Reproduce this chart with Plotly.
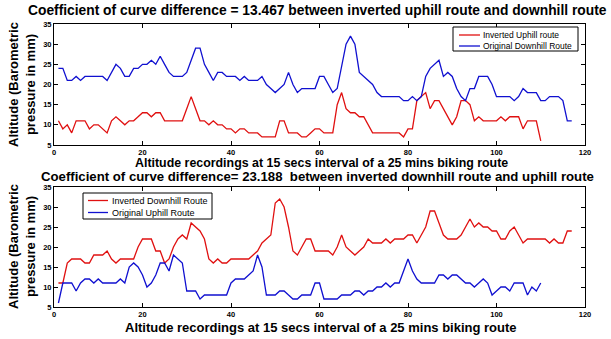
import plotly.graph_objects as go

# ---------------- data ----------------
top_uphill_inverted = [11, 9, 10, 8, 11, 11, 11, 9, 10, 10, 9, 8, 11, 12, 11, 10, 11, 11, 12, 13,
                       13, 12, 13, 13, 11, 11, 11, 11, 11, 14, 17, 14, 11, 11, 10, 11, 10, 10, 9, 9,
                       8, 9, 9, 8, 8, 8, 7, 7, 7, 7, 11, 11, 8, 8, 8, 7, 7, 8, 9, 9,
                       8, 8, 8, 15, 18, 14, 13, 13, 12, 12, 10, 8, 8, 8, 8, 8, 8, 8, 7, 9,
                       9, 16, 17, 18, 14, 16, 16, 14, 12, 10, 12, 16, 16, 15, 11, 12, 11, 11, 11, 11,
                       12, 11, 12, 12, 12, 9, 11, 11, 11, 6]
top_downhill_original = [24, 24, 21, 21, 22, 21, 22, 22, 22, 22, 22, 21, 23, 25, 24, 22, 22, 24, 24, 25,
                         25, 26, 25, 27, 25, 23, 22, 22, 22, 23, 26, 29, 29, 25, 23, 21, 23, 23, 22, 22,
                         22, 21, 22, 21, 21, 21, 22, 20, 19, 18, 19, 20, 23, 20, 18, 19, 19, 19, 19, 22,
                         22, 20, 18, 19, 25, 30, 32, 30, 23, 22, 21, 20, 18, 17, 17, 17, 17, 17, 16, 16,
                         17, 16, 17, 22, 24, 25, 26, 22, 23, 22, 19, 17, 16, 19, 19, 22, 22, 22, 20, 17,
                         17, 17, 17, 16, 17, 19, 18, 18, 18, 16, 16, 17, 17, 17, 16, 11, 11]
bot_downhill_inverted = [11, 11, 16, 17, 17, 17, 16, 16, 18, 18, 18, 19, 17, 16, 17, 17, 17, 17, 20, 22,
                         22, 22, 19, 19, 16, 17, 20, 22, 23, 22, 26, 25, 24, 22, 17, 16, 17, 16, 16, 17,
                         17, 17, 17, 17, 18, 19, 21, 22, 23, 31, 32, 30, 25, 19, 18, 20, 22, 22, 19, 19,
                         19, 19, 18, 20, 23, 20, 19, 18, 19, 20, 22, 21, 21, 21, 22, 21, 22, 22, 22, 23,
                         23, 21, 23, 25, 29, 29, 26, 23, 22, 22, 22, 23, 25, 27, 25, 26, 25, 25, 24, 24,
                         22, 22, 24, 25, 23, 21, 22, 22, 22, 22, 22, 21, 22, 21, 21, 24, 24]
bot_uphill_original = [6, 11, 11, 11, 9, 11, 12, 12, 11, 12, 11, 11, 11, 11, 12, 11, 15, 16, 15, 13,
                       10, 11, 13, 16, 16, 14, 18, 17, 16, 9, 9, 9, 7, 8, 8, 8, 8, 8, 8, 11,
                       12, 12, 12, 13, 14, 18, 15, 8, 8, 8, 9, 9, 8, 7, 7, 8, 8, 8, 11, 11,
                       7, 7, 7, 7, 8, 8, 8, 9, 9, 8, 9, 9, 10, 10, 11, 10, 11, 11, 14, 17,
                       14, 12, 11, 11, 11, 11, 13, 13, 12, 13, 13, 12, 11, 11, 10, 11, 12, 11, 8, 9,
                       10, 10, 9, 11, 11, 11, 8, 10, 9, 11]

x_ticks = [0, 20, 40, 60, 80, 100, 120]
y_ticks = [5, 10, 15, 20, 25, 30, 35]

top_names = ["Inverted Uphill route", "Original Downhill Route"]
bot_names = ["Inverted Downhill Route", "Original Uphill Route"]

top_title = "Coefficient of curve difference = 13.467 between inverted uphill route and downhill route"
bot_title = "Coefficient of curve difference= 23.188  between inverted downhill route and uphill route"
x_title = "Altitude recordings at 15 secs interval of a 25 mins biking route"
y_title = "Altitude (Barometric<br>pressure in mm)"

RED = "#e01010"
BLUE = "#1010d0"
FONT = "Liberation Sans"

# figure geometry (pixels)
W, H = 611, 339
L, R, T, B = 54, 26, 24, 32
PW, PH = W - L - R, H - T - B


def px(x):
    return (x - L) / PW


def py(y):
    return (H - B - y) / PH


fig = go.Figure()

fig.add_trace(go.Scatter(x=list(range(1, len(top_uphill_inverted) + 1)), y=top_uphill_inverted,
                         mode="lines", line=dict(color=RED, width=1.3),
                         name=top_names[0], xaxis="x", yaxis="y"))
fig.add_trace(go.Scatter(x=list(range(1, len(top_downhill_original) + 1)), y=top_downhill_original,
                         mode="lines", line=dict(color=BLUE, width=1.3),
                         name=top_names[1], xaxis="x", yaxis="y"))
fig.add_trace(go.Scatter(x=list(range(1, len(bot_downhill_inverted) + 1)), y=bot_downhill_inverted,
                         mode="lines", line=dict(color=RED, width=1.3),
                         name=bot_names[0], xaxis="x2", yaxis="y2"))
fig.add_trace(go.Scatter(x=list(range(1, len(bot_uphill_original) + 1)), y=bot_uphill_original,
                         mode="lines", line=dict(color=BLUE, width=1.3),
                         name=bot_names[1], xaxis="x2", yaxis="y2"))

axis_common = dict(showgrid=False, zeroline=False, showline=True, linecolor="black", linewidth=1,
                   mirror="ticks", ticks="inside", ticklen=4, tickcolor="black",
                   tickfont=dict(family=FONT, size=7.5, color="black", weight="bold"))

top_dom = [py(145), 1.0]
bot_dom = [0.0, py(187)]

fig.update_layout(
    width=W, height=H,
    margin=dict(l=L, r=R, t=T, b=B),
    paper_bgcolor="white", plot_bgcolor="white",
    font=dict(family=FONT, color="black"),
    xaxis=dict(domain=[0, 1], anchor="y", range=[0, 120], tickvals=x_ticks, **axis_common),
    yaxis=dict(domain=top_dom, anchor="x", range=[5, 35], tickvals=y_ticks, **axis_common),
    xaxis2=dict(domain=[0, 1], anchor="y2", range=[0, 120], tickvals=x_ticks, **axis_common),
    yaxis2=dict(domain=bot_dom, anchor="x2", range=[5, 35], tickvals=y_ticks, **axis_common),
    showlegend=False,
)

ann = []
shapes = []


def add_text(text, x, y, size, bold=False, xanchor="center", angle=0):
    ann.append(dict(text=("<b>" + text + "</b>") if bold else text, xref="paper", yref="paper",
                    x=px(x), y=py(y), xanchor=xanchor, yanchor="middle", textangle=angle,
                    showarrow=False, font=dict(family=FONT, size=size, color="black")))


add_text(top_title, 317, 10, 13.8, bold=True)
add_text(bot_title, 317, 176.6, 13.2, bold=True)
add_text(x_title, 321, 163.2, 12.4, bold=True)
add_text(x_title, 321, 327, 13, bold=True)
add_text(y_title, 22, 85, 13, bold=True, angle=-90)
add_text(y_title, 22, 247, 13, bold=True, angle=-90)


def add_legend(box, names, colors, line_x, text_x, rows, size):
    x0, y0, x1, y1 = box
    shapes.append(dict(type="rect", xref="paper", yref="paper", x0=px(x0), x1=px(x1),
                       y0=py(y1), y1=py(y0), line=dict(color="black", width=1),
                       fillcolor="white", layer="above"))
    for name, color, ry in zip(names, colors, rows):
        shapes.append(dict(type="line", xref="paper", yref="paper", x0=px(line_x[0]), x1=px(line_x[1]),
                           y0=py(ry), y1=py(ry), line=dict(color=color, width=1.3), layer="above"))
        add_text(name, text_x, ry, size, xanchor="left")


add_legend((453, 27, 578, 51), top_names, [RED, BLUE], (459, 480), 481, (35, 46), 8.5)
add_legend((83, 193, 212, 219), bot_names, [RED, BLUE], (88, 108), 110, (200.5, 212.5), 9)

fig.update_layout(annotations=ann, shapes=shapes)

fig.write_html("out.html", config={"displayModeBar": False},
               post_script="document.body.style.margin='0';document.body.style.overflow='hidden';")
